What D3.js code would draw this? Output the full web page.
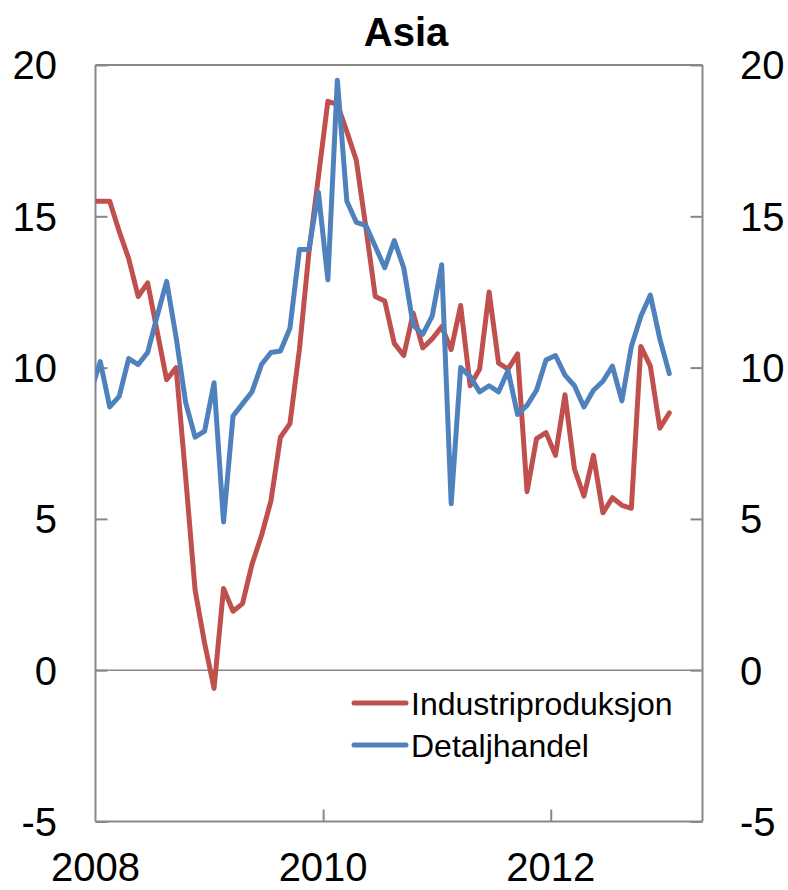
<!DOCTYPE html>
<html>
<head>
<meta charset="utf-8">
<script src="https://cdn.jsdelivr.net/npm/d3@7"></script>
<style>
  html, body { margin: 0; padding: 0; background: #fff; }
  svg { display: block; font-family: "Liberation Sans", Arial, sans-serif; }
</style>
</head>
<body>
<svg id="chart" width="788" height="890"></svg>
<script>
const title = "Asia";
const months = [
  "2007-12",
  "2008-01","2008-02","2008-03","2008-04","2008-05","2008-06","2008-07","2008-08","2008-09","2008-10","2008-11","2008-12",
  "2009-01","2009-02","2009-03","2009-04","2009-05","2009-06","2009-07","2009-08","2009-09","2009-10","2009-11","2009-12",
  "2010-01","2010-02","2010-03","2010-04","2010-05","2010-06","2010-07","2010-08","2010-09","2010-10","2010-11","2010-12",
  "2011-01","2011-02","2011-03","2011-04","2011-05","2011-06","2011-07","2011-08","2011-09","2011-10","2011-11","2011-12",
  "2012-01","2012-02","2012-03","2012-04","2012-05","2012-06","2012-07","2012-08","2012-09","2012-10","2012-11","2012-12",
  "2013-01"
];
const industriproduksjon = [
  15.5,
  15.5, 15.5, 14.5, 13.6, 12.35, 12.8, 11.2, 9.6, 10.0, 6.4, 2.65, 0.9,
  -0.6, 2.7, 1.95, 2.2, 3.5, 4.45, 5.6, 7.7, 8.15, 10.6, 13.8, 16.3,
  18.8, 18.7, 17.8, 16.85, 14.65, 12.35, 12.2, 10.8, 10.4, 11.8, 10.65, 10.95,
  11.35, 10.6, 12.05, 9.4, 9.95, 12.5, 10.15, 9.95, 10.45, 5.9, 7.65, 7.85,
  7.1, 9.1, 6.65, 5.75, 7.1, 5.2, 5.7, 5.45, 5.35, 10.7, 10.05, 8.0,
  8.5
];
const detaljhandel = [
  9.2,
  10.2, 8.7, 9.05, 10.3, 10.1, 10.5, 11.7, 12.85, 11.0, 8.85, 7.7, 7.9,
  9.5, 4.9, 8.4, 8.8, 9.2, 10.1, 10.5, 10.55, 11.3, 13.9, 13.9, 15.8,
  12.9, 19.5, 15.5, 14.8, 14.7, 14.0, 13.3, 14.2, 13.3, 11.4, 11.1, 11.7,
  13.4, 5.5, 10.0, 9.7, 9.2, 9.4, 9.2, 9.9, 8.45, 8.75, 9.25, 10.25,
  10.4, 9.75, 9.4, 8.7, 9.25, 9.55, 10.05, 8.9, 10.7, 11.7, 12.4, 10.95,
  9.8
];
const seriesNames = ["Industriproduksjon", "Detaljhandel"];
const seriesColors = ["#C0504D", "#4F81BD"];
const yTicks = [-5, 0, 5, 10, 15, 20];
const xTickYears = ["2008", "2010", "2012"];

const svg = d3.select("#chart");
const L = 95.5, R = 702.5, T = 65, B = 821.5;
const axisColor = "#888888";

function monthOffset(s) {
  const [yy, m] = s.split("-").map(Number);
  return (yy - 2008) * 12 + (m - 1);
}
const x = d3.scaleLinear().domain([0, 64]).range([L, R]);
const y = d3.scaleLinear().domain([-5, 20]).range([B, T]);

svg.append("defs").append("clipPath").attr("id", "plotclip")
  .append("rect").attr("x", L).attr("y", 0).attr("width", R - L).attr("height", 890);

// zero line
svg.append("line")
  .attr("x1", L).attr("x2", R).attr("y1", y(0)).attr("y2", y(0))
  .attr("stroke", axisColor).attr("stroke-width", 1.5);

// frame axes
const leftAxis = d3.axisRight(y).tickValues(yTicks).tickSize(12).tickFormat("");
const rightAxis = d3.axisLeft(y).tickValues(yTicks).tickSize(12).tickFormat("");
const gl = svg.append("g").attr("transform", `translate(${L},0)`).call(leftAxis);
const gr = svg.append("g").attr("transform", `translate(${R},0)`).call(rightAxis);
const xTickVals = xTickYears.map(v => monthOffset(v + "-01"));
const bottomAxis = d3.axisTop(x).tickValues(xTickVals.filter(v => v > 0)).tickSize(12).tickFormat("");
const gb = svg.append("g").attr("transform", `translate(0,${B})`).call(bottomAxis);
[gl, gr, gb].forEach(g => {
  g.select(".domain").attr("stroke", axisColor).attr("stroke-width", 2);
  g.selectAll(".tick line").attr("stroke", axisColor).attr("stroke-width", 2);
});
gb.select(".domain").attr("d", `M${L},0H${R}`);
gl.select(".domain").attr("d", `M0,${T}V${B}`);
gr.select(".domain").attr("d", `M0,${T}V${B}`);
svg.append("line").attr("x1", L).attr("x2", R).attr("y1", T).attr("y2", T)
  .attr("stroke", axisColor).attr("stroke-width", 2);

// tick labels
const fs = 40;
svg.append("g").selectAll("text").data(yTicks).join("text")
  .attr("x", 57).attr("y", d => y(d)).attr("dy", "0.36em")
  .attr("text-anchor", "end").attr("font-size", fs).text(d => d);
svg.append("g").selectAll("text").data(yTicks).join("text")
  .attr("x", 740).attr("y", d => y(d)).attr("dy", "0.36em")
  .attr("text-anchor", "start").attr("font-size", fs).text(d => d);
svg.append("g").selectAll("text").data(xTickYears).join("text")
  .attr("x", d => x(monthOffset(d + "-01"))).attr("y", 881)
  .attr("text-anchor", "middle").attr("font-size", fs).text(d => d);

// title
svg.append("text").attr("x", 406).attr("y", 46).attr("text-anchor", "middle")
  .attr("font-size", 40).attr("font-weight", "bold").text(title);

// lines
const line = d3.line()
  .x((d, i) => x(monthOffset(months[i]) + 0.5))
  .y(d => y(d));
const plot = svg.append("g").attr("clip-path", "url(#plotclip)");
[industriproduksjon, detaljhandel].forEach((s, k) => {
  plot.append("path").datum(s)
    .attr("d", line)
    .attr("fill", "none")
    .attr("stroke", seriesColors[k])
    .attr("stroke-width", 5)
    .attr("stroke-linejoin", "round")
    .attr("stroke-linecap", "round");
});

// legend
const lg = svg.append("g");
seriesNames.forEach((n, k) => {
  const yy = 703 + k * 42;
  lg.append("line").attr("x1", 354).attr("x2", 406).attr("y1", yy).attr("y2", yy)
    .attr("stroke", seriesColors[k]).attr("stroke-width", 5).attr("stroke-linecap", "round");
  lg.append("text").attr("x", 411).attr("y", yy).attr("dy", "0.36em")
    .attr("font-size", 32).text(n);
});
</script>
</body>
</html>
